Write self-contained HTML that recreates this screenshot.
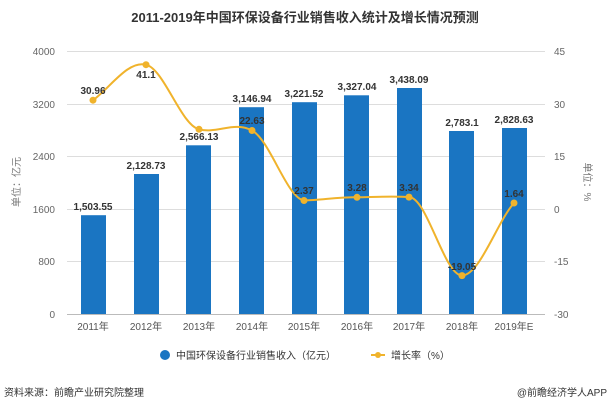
<!DOCTYPE html>
<html><head><meta charset="utf-8"><style>
body{margin:0;background:#fff;width:611px;height:407px;overflow:hidden;font-family:"Liberation Sans","Noto Sans CJK SC",sans-serif}
</style></head><body>
<svg width="611" height="407" xmlns="http://www.w3.org/2000/svg" font-family="Liberation Sans, Noto Sans CJK SC, sans-serif">
<text x="305" y="22" text-anchor="middle" font-size="13" font-weight="bold" fill="#333">2011-2019年中国环保设备行业销售收入统计及增长情况预测</text>
<g stroke="#ddd" stroke-width="1">
<line x1="67" x2="545" y1="51.5" y2="51.5"/><line x1="67" x2="545" y1="104.5" y2="104.5"/>
<line x1="67" x2="545" y1="156.5" y2="156.5"/><line x1="67" x2="545" y1="209.5" y2="209.5"/>
<line x1="67" x2="545" y1="261.5" y2="261.5"/>
</g>
<line x1="67" x2="545" y1="314.5" y2="314.5" stroke="#bbb"/>
<g font-size="10" fill="#666" text-anchor="end">
<text x="55" y="55">4000</text><text x="55" y="108">3200</text><text x="55" y="160">2400</text>
<text x="55" y="213">1600</text><text x="55" y="265">800</text><text x="55" y="318">0</text>
</g>
<g font-size="10" fill="#666" text-anchor="start">
<text x="554" y="55">45</text><text x="554" y="108">30</text><text x="554" y="160">15</text>
<text x="554" y="213">0</text><text x="554" y="265">-15</text><text x="554" y="318">-30</text>
</g>
<text transform="translate(20,182) rotate(-90)" text-anchor="middle" font-size="10" fill="#777">单位：亿元</text>
<text transform="translate(584,182) rotate(90)" text-anchor="middle" font-size="10" fill="#777">单位：%</text>
<g fill="#1a75c2">
<rect x="81" y="215.2" width="25" height="98.8"/>
<rect x="134" y="174.0" width="25" height="140"/>
<rect x="186" y="145.3" width="25" height="168.7"/>
<rect x="239" y="107.2" width="25" height="206.8"/>
<rect x="292" y="102.2" width="25" height="211.8"/>
<rect x="344" y="95.3" width="25" height="218.7"/>
<rect x="397" y="88.0" width="25" height="226"/>
<rect x="449" y="131.0" width="25" height="183"/>
<rect x="502" y="128.0" width="25" height="186"/>
</g>
<g font-size="10" font-weight="bold" fill="#333" text-anchor="middle">
<text x="93" y="210">1,503.55</text><text x="146" y="169">2,128.73</text>
<text x="199" y="140">2,566.13</text><text x="252" y="102">3,146.94</text>
<text x="304" y="97">3,221.52</text><text x="357" y="90">3,327.04</text>
<text x="409" y="83">3,438.09</text><text x="462" y="126">2,783.1</text>
<text x="514" y="123">2,828.63</text>
</g>
<path d="M93,100.2 C110,88 128,60 146,64.7 C164,69 181,125 199,129.3 C217,134 234,121 252,130.5 C270,140 287,198 304,200.5 C322,200 339,197 357,197.3 C375,197 392,196 409,197.1 C427,197 444,275 462,275.6 C480,275 497,222 514,203.0" fill="none" stroke="#f0b32c" stroke-width="2"/>
<g fill="#f0b32c">
<circle cx="93" cy="100.2" r="3.5"/><circle cx="146" cy="64.7" r="3.5"/><circle cx="199" cy="129.3" r="3.5"/>
<circle cx="252" cy="130.5" r="3.5"/><circle cx="304" cy="200.5" r="3.5"/><circle cx="357" cy="197.3" r="3.5"/>
<circle cx="409" cy="197.1" r="3.5"/><circle cx="462" cy="275.6" r="3.5"/><circle cx="514" cy="203.0" r="3.5"/>
</g>
<g font-size="10" font-weight="bold" fill="#333" text-anchor="middle">
<text x="93" y="94">30.96</text><text x="146" y="78">41.1</text>
<text x="252" y="124">22.63</text><text x="304" y="194">2.37</text><text x="357" y="191">3.28</text>
<text x="409" y="191">3.34</text><text x="462" y="270">-19.05</text><text x="514" y="197">1.64</text>
</g>
<g font-size="10" fill="#555" text-anchor="middle">
<text x="93" y="330">2011年</text><text x="146" y="330">2012年</text><text x="199" y="330">2013年</text>
<text x="252" y="330">2014年</text><text x="304" y="330">2015年</text><text x="357" y="330">2016年</text>
<text x="409" y="330">2017年</text><text x="462" y="330">2018年</text><text x="514" y="330">2019年E</text>
</g>
<circle cx="165" cy="355" r="5" fill="#1a75c2"/>
<text x="176" y="359" font-size="10" fill="#333">中国环保设备行业销售收入（亿元）</text>
<line x1="371" x2="385" y1="355" y2="355" stroke="#f0b32c" stroke-width="2"/>
<circle cx="378" cy="355" r="3" fill="#f0b32c"/>
<text x="391" y="359" font-size="10" fill="#333">增长率（%）</text>
<text x="4" y="396" font-size="10" fill="#333">资料来源：前瞻产业研究院整理</text>
<text x="607" y="396" font-size="10" fill="#333" text-anchor="end">@前瞻经济学人APP</text>
</svg>
</body></html>
